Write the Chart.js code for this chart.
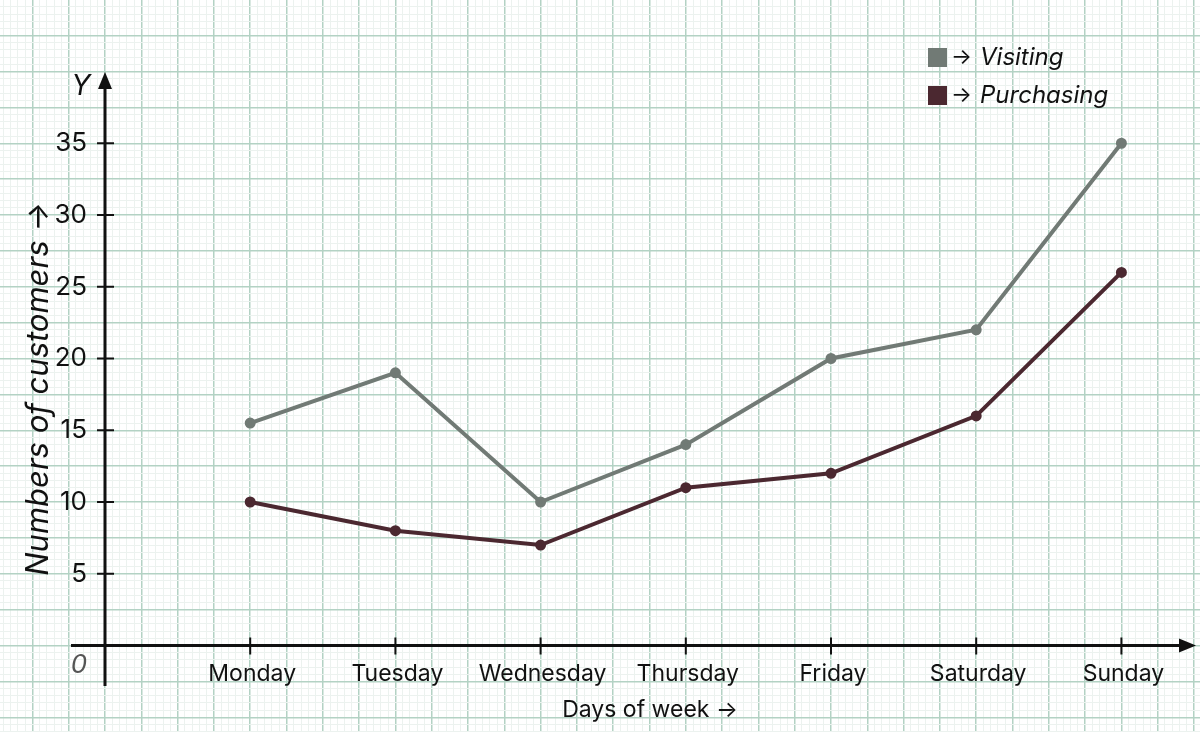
<!DOCTYPE html>
<html>
<head>
<meta charset="utf-8">
<script src="https://cdn.jsdelivr.net/npm/chart.js@4.4.1/dist/chart.umd.min.js"></script>
<style>
  html, body { margin: 0; padding: 0; background: #ffffff; }
  #wrap { width: 1200px; height: 732px; position: relative; }
</style>
</head>
<body>
<div id="wrap"><canvas id="myChart"></canvas></div>
<script>
// chart data
const days = ["Monday", "Tuesday", "Wednesday", "Thursday", "Friday", "Saturday", "Sunday"];
const visiting = [15.5, 19, 10, 14, 20, 22, 35];
const purchasing = [10, 8, 7, 11, 12, 16, 26];
const yTicks = [5, 10, 15, 20, 25, 30, 35];
const seriesNames = ["Visiting", "Purchasing"];

const FONT = "Inter, 'Noto Sans', sans-serif";
const MAJOR = "#b3d2c4";
const MINOR = "#ecf2ef";

function isMajor(v, step) {
    var r = v / step;
    return Math.abs(r - Math.round(r)) < 1e-6;
}

function toPoints(arr) {
    return arr.map(function (v, i) { return {x: i + 1, y: v}; });
}

// axes, arrows, ticks and texts drawn on the graph paper
const paperAxes = {
    id: "paperAxes",
    beforeDatasetsDraw: function (chart) {
        const ctx = chart.ctx;
        const xs = chart.scales.x, ys = chart.scales.y;
        const ox = xs.getPixelForValue(0), oy = ys.getPixelForValue(0);
        ctx.save();
        ctx.strokeStyle = "#111";
        ctx.fillStyle = "#111";
        ctx.lineWidth = 3;
        // x axis
        ctx.beginPath();
        ctx.moveTo(71, oy);
        ctx.lineTo(1182, oy);
        ctx.stroke();
        ctx.beginPath();
        ctx.moveTo(1196, oy);
        ctx.lineTo(1179, oy - 7);
        ctx.lineTo(1179, oy + 7);
        ctx.closePath();
        ctx.fill();
        // y axis
        ctx.beginPath();
        ctx.moveTo(ox, 686);
        ctx.lineTo(ox, 86);
        ctx.stroke();
        ctx.beginPath();
        ctx.moveTo(ox, 72);
        ctx.lineTo(ox - 7, 89);
        ctx.lineTo(ox + 7, 89);
        ctx.closePath();
        ctx.fill();
        // tick marks
        ctx.lineWidth = 2;
        yTicks.forEach(function (t) {
            const py = ys.getPixelForValue(t);
            ctx.beginPath();
            ctx.moveTo(ox - 8, py);
            ctx.lineTo(ox + 9, py);
            ctx.stroke();
        });
        days.forEach(function (d, i) {
            const px = xs.getPixelForValue(i + 1);
            ctx.beginPath();
            ctx.moveTo(px, oy - 8);
            ctx.lineTo(px, oy + 9);
            ctx.stroke();
        });
        ctx.restore();
    },
    afterDraw: function (chart) {
        const ctx = chart.ctx;
        const xs = chart.scales.x, ys = chart.scales.y;
        const ox = xs.getPixelForValue(0), oy = ys.getPixelForValue(0);
        ctx.save();
        ctx.fillStyle = "#111";
        ctx.textBaseline = "middle";

        // y tick labels
        ctx.font = "26px " + FONT;
        ctx.textAlign = "right";
        yTicks.forEach(function (t) {
            ctx.fillText(String(t), 87, ys.getPixelForValue(t));
        });

        // day labels
        ctx.font = "23px " + FONT;
        ctx.textAlign = "center";
        days.forEach(function (d, i) {
            ctx.fillText(d, xs.getPixelForValue(i + 1) + 2, oy + 29);
        });

        // origin and Y letter
        ctx.font = "italic 26px " + FONT;
        ctx.fillStyle = "#555";
        ctx.fillText("0", 79, oy + 20);
        ctx.fillStyle = "#111";
        ctx.font = "italic 28px " + FONT;
        ctx.fillText("Y", 81, 87);

        // axis titles
        ctx.font = "23px " + FONT;
        ctx.fillText("Days of week \u2192", 650, 710);
        ctx.save();
        ctx.translate(39, 389);
        ctx.rotate(-Math.PI / 2);
        ctx.font = "italic 31px " + FONT;
        ctx.fillText("Numbers of customers \u2192", 0, 0);
        ctx.restore();

        // legend
        ctx.textAlign = "left";
        chart.data.datasets.forEach(function (ds, i) {
            const y = 57 + i * 38;
            ctx.fillStyle = ds.borderColor;
            ctx.fillRect(928, y - 9, 19, 19);
            ctx.fillStyle = "#111";
            ctx.font = "22px " + FONT;
            ctx.fillText("\u2192", 951, y);
            ctx.font = "italic 24px " + FONT;
            ctx.fillText(ds.label, 980, y + 1);
        });
        ctx.restore();
    }
};

new Chart("myChart", {
    type: "line",
    data: {
        datasets: [
            {
                label: seriesNames[0],
                data: toPoints(visiting),
                borderColor: "#717a75",
                backgroundColor: "#717a75",
                borderWidth: 4,
                pointRadius: 3.5,
                pointHoverRadius: 3.5,
                tension: 0
            },
            {
                label: seriesNames[1],
                data: toPoints(purchasing),
                borderColor: "#4b2830",
                backgroundColor: "#4b2830",
                borderWidth: 4,
                pointRadius: 3.5,
                pointHoverRadius: 3.5,
                tension: 0
            }
        ]
    },
    options: {
        responsive: true,
        maintainAspectRatio: false,
        animation: false,
        layout: {padding: 0, autoPadding: false},
        plugins: {
            legend: {display: false},
            tooltip: {enabled: false}
        },
        scales: {
            x: {
                type: "linear",
                min: -105 / 145.2,
                max: 1095 / 145.2,
                border: {display: false},
                ticks: {display: false, stepSize: 0.05, includeBounds: false},
                grid: {
                    drawTicks: false,
                    color: function (c) { return isMajor(c.tick.value, 0.25) ? MAJOR : MINOR; },
                    lineWidth: function (c) { return isMajor(c.tick.value, 0.25) ? 1.5 : 1; }
                }
            },
            y: {
                type: "linear",
                min: -86.5 / 14.35,
                max: 645.5 / 14.35,
                border: {display: false},
                ticks: {display: false, stepSize: 0.5, includeBounds: false},
                grid: {
                    drawTicks: false,
                    color: function (c) { return isMajor(c.tick.value, 2.5) ? MAJOR : MINOR; },
                    lineWidth: function (c) { return isMajor(c.tick.value, 2.5) ? 1.5 : 1; }
                }
            }
        }
    },
    plugins: [paperAxes]
});
</script>
</body>
</html>
